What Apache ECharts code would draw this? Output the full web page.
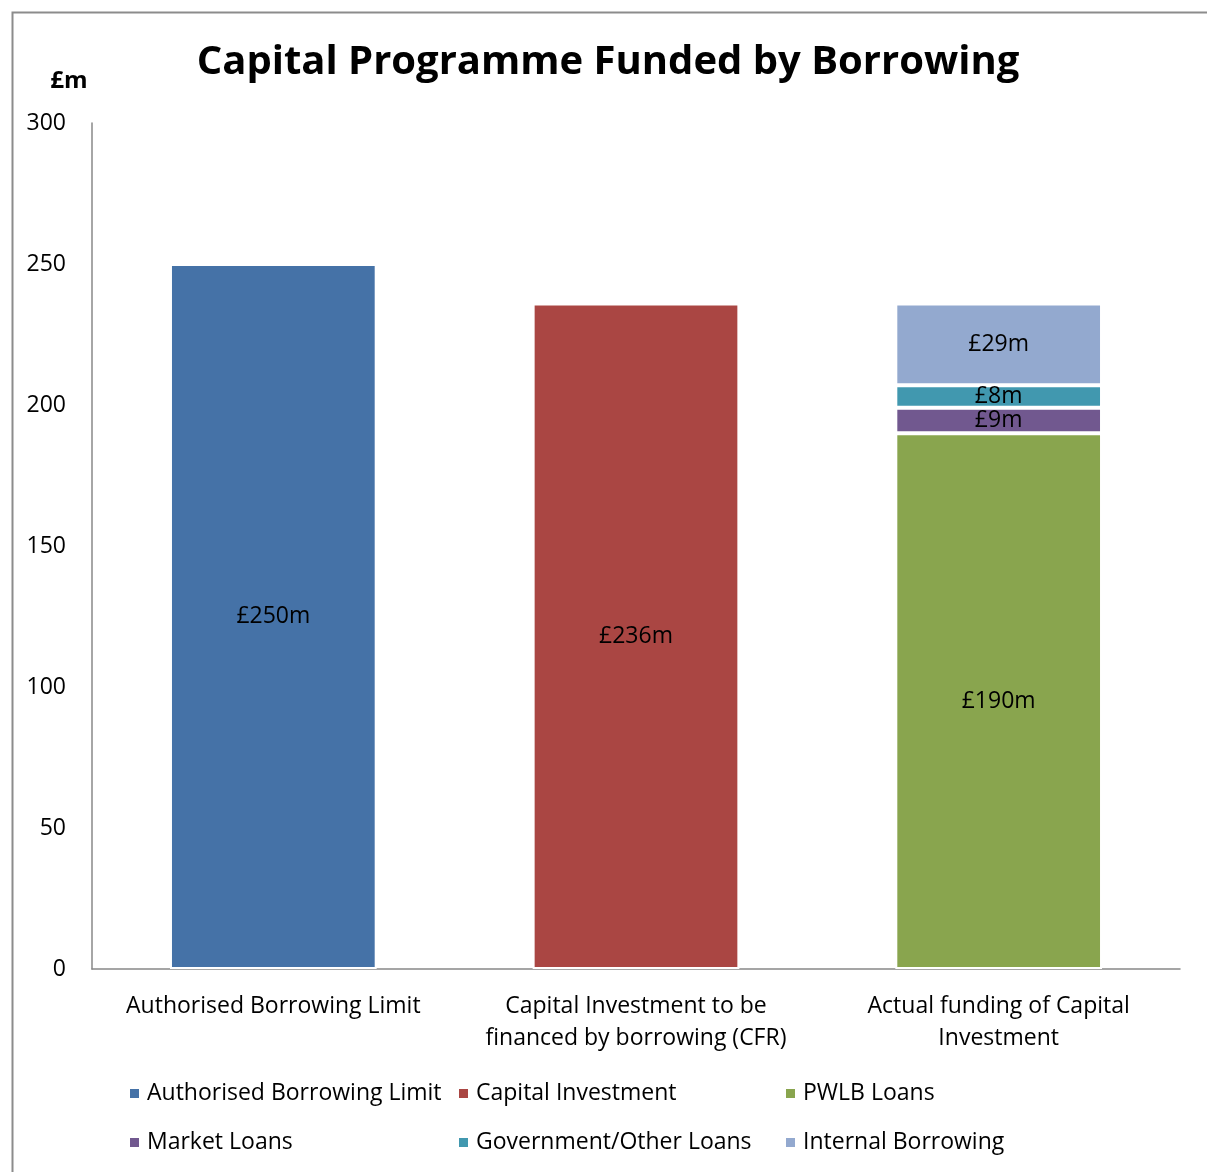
<!DOCTYPE html>
<html>
<head>
<meta charset="utf-8">
<script src="https://cdn.jsdelivr.net/npm/echarts@6/dist/echarts.min.js"></script>
<style>
html,body{margin:0;padding:0;background:#fff;}
#chart{width:1207px;height:1172px;}
</style>
</head>
<body>
<div id="chart"></div>
<script>
const categories = ['Authorised Borrowing Limit', 'Capital Investment to be\nfinanced by borrowing (CFR)', 'Actual funding of Capital\nInvestment'];
const authorisedLimit = [250, '-', '-'];
const capitalInvestment = ['-', 236, '-'];
const pwlbLoans = ['-', '-', 190];
const marketLoans = ['-', '-', 9];
const governmentLoans = ['-', '-', 8];
const internalBorrowing = ['-', '-', 29];
const yTicks = {min: 0, max: 300, interval: 50};

const FONT = '"Open Sans", Lato, sans-serif';
const FS = 23;
const chart = echarts.init(document.getElementById('chart'));

function mkSeries(name, data, color) {
  return {
    name: name, type: 'bar', stack: 'total', data: data, barWidth: '57%',
    itemStyle: {color: color, borderColor: '#ffffff', borderWidth: 2},
    label: {show: true, position: 'inside', formatter: '£{c}m', color: '#000', fontSize: FS, fontFamily: FONT},
    emphasis: {disabled: true}
  };
}

const legendBase = {
  orient: 'vertical', top: 1082, padding: 0, itemWidth: 11, itemHeight: 11, itemGap: 26,
  icon: 'rect',
  textStyle: {fontSize: FS, fontFamily: FONT, color: '#000', padding: [0, 0, 0, 2]},
  selectedMode: false
};

chart.setOption({
  animation: false,
  backgroundColor: '#fff',
  graphic: [{
    type: 'rect', left: 10, top: 10, silent: true,
    shape: {x: 0, y: 0, width: 1230, height: 1200},
    style: {fill: 'none', stroke: '#8c8c8c', lineWidth: 2}
  }],
  title: [
    {text: 'Capital Programme Funded by Borrowing', left: 603, textAlign: 'center', top: 38,
     textStyle: {fontSize: 40, fontWeight: 'bold', fontFamily: FONT, color: '#000'}},
    {text: '£m', left: 64, textAlign: 'center', top: 64,
     textStyle: {fontSize: 24, fontWeight: 'bold', fontFamily: FONT, color: '#000'}}
  ],
  legend: [
    Object.assign({}, legendBase, {left: 128, data: ['Authorised Borrowing Limit', 'Market Loans']}),
    Object.assign({}, legendBase, {left: 457, data: ['Capital Investment', 'Government/Other Loans']}),
    Object.assign({}, legendBase, {left: 784, data: ['PWLB Loans', 'Internal Borrowing']})
  ],
  grid: {left: 92, right: 27, top: 123, bottom: 203, containLabel: false},
  xAxis: {
    type: 'category', data: categories,
    axisLine: {lineStyle: {color: '#888', width: 1.5}},
    axisTick: {show: false},
    axisLabel: {fontSize: FS, fontFamily: FONT, color: '#000', margin: 21, lineHeight: 32, interval: 0}
  },
  yAxis: {
    type: 'value', min: yTicks.min, max: yTicks.max, interval: yTicks.interval,
    axisLine: {show: true, lineStyle: {color: '#888', width: 1.5}},
    axisTick: {show: false},
    splitLine: {show: false},
    axisLabel: {fontSize: FS, fontFamily: FONT, color: '#000', margin: 26}
  },
  series: [
    mkSeries('Authorised Borrowing Limit', authorisedLimit, '#4572A7'),
    mkSeries('Capital Investment', capitalInvestment, '#AA4643'),
    mkSeries('PWLB Loans', pwlbLoans, '#89A54E'),
    mkSeries('Market Loans', marketLoans, '#71588F'),
    mkSeries('Government/Other Loans', governmentLoans, '#4198AF'),
    mkSeries('Internal Borrowing', internalBorrowing, '#93A9CF')
  ]
});
</script>
</body>
</html>
